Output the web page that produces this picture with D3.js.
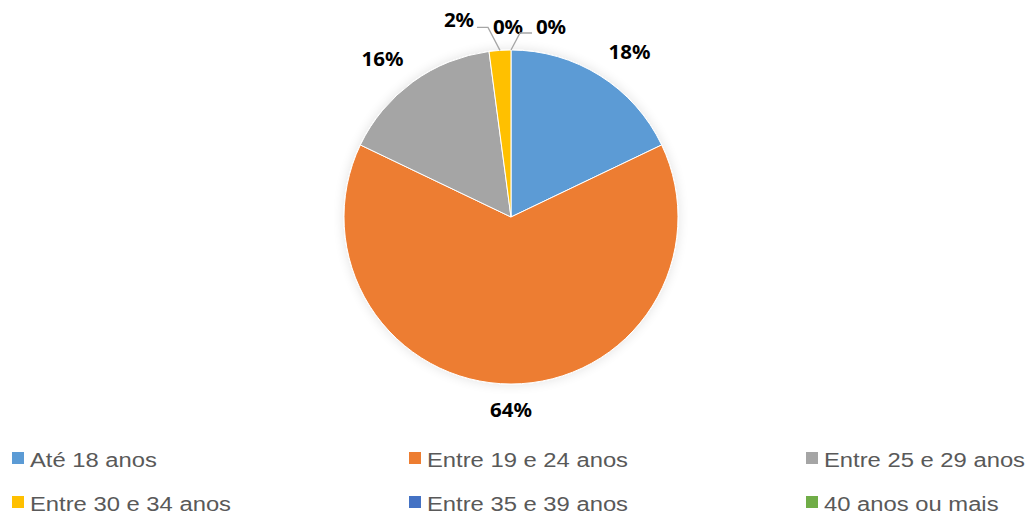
<!DOCTYPE html>
<html>
<head>
<meta charset="utf-8">
<script src="https://cdn.jsdelivr.net/npm/d3@7/dist/d3.min.js"></script>
<style>
  body { margin: 0; background: #fff; }
  svg { display: block; }
</style>
</head>
<body>
<svg id="chart" width="1029" height="514"></svg>
<script>
// Data
var categories = ["Até 18 anos", "Entre 19 e 24 anos", "Entre 25 e 29 anos",
                  "Entre 30 e 34 anos", "Entre 35 e 39 anos", "40 anos ou mais"];
var values = [17.9, 64.2, 15.8, 2.1, 0, 0];
var colors = ["#5B9BD5", "#ED7D31", "#A5A5A5", "#FFC000", "#4472C4", "#70AD47"];

var svg = d3.select("#chart"),
    width = 1029,
    cx = 511, cy = 217, radius = 167;

var total = d3.sum(values);

// soft shadow round the pie
var defs = svg.append("defs");
var filter = defs.append("filter").attr("id", "shadow")
    .attr("x", "-20%").attr("y", "-20%").attr("width", "140%").attr("height", "140%");
filter.append("feGaussianBlur").attr("in", "SourceAlpha").attr("stdDeviation", 6);
filter.append("feComponentTransfer").append("feFuncA").attr("type", "linear").attr("slope", 0.12);
var merge = filter.append("feMerge");
merge.append("feMergeNode");
merge.append("feMergeNode").attr("in", "SourceGraphic");

var pie = d3.pie().sort(null).value(function(d) { return d; });
var arcs = pie(values);

var arc = d3.arc().innerRadius(0).outerRadius(radius);

var g = svg.append("g").attr("transform", "translate(" + cx + "," + cy + ")");

g.append("g").attr("filter", "url(#shadow)")
  .selectAll("path")
  .data(arcs)
  .enter()
  .append("path")
    .attr("d", arc)
    .attr("fill", function(d, i) { return colors[i]; })
    .attr("stroke", "#fff")
    .attr("stroke-width", function(d) { return d.value > 0 ? 1 : 0; });

// Labels
var labelW = 42, labelH = 20;
var fmt = function(v) { return Math.round(v / total * 100) + "%"; };

// small slices are pushed above the pie with leader lines
var smallShift = [-41, -3, 40];
var smallIdx = 0;

arcs.forEach(function(d, i) {
  var a = (d.startAngle + d.endAngle) / 2;
  var sa = Math.sin(a), ca = -Math.cos(a);
  var lx, ly;
  if (d.endAngle - d.startAngle > 0.3) {
    var px = (radius + 16) * sa, py = (radius + 16) * ca;
    lx = px + labelW / 2 * Math.max(-1, Math.min(1, sa * 2));
    ly = py + labelH / 2 * Math.max(-1, Math.min(1, ca * 2));
  } else {
    var ax = radius * sa, ay = radius * ca;
    var shift = smallShift[smallIdx++];
    lx = ax + shift;
    ly = ay - (smallIdx === 1 ? 30 : 23);
    // leader line
    var pts;
    if (shift < -10) {
      pts = [[lx + 18, ly + 7], [lx + 29, ly + 7], [ax, ay]];
    } else if (shift > 10) {
      pts = [[lx - 19, ly + 6], [lx - 31, ly + 6], [ax, ay]];
    } else {
      pts = null;
    }
    if (pts) {
      g.append("path")
        .attr("d", d3.line()(pts))
        .attr("fill", "none")
        .attr("stroke", "#A6A6A6")
        .attr("stroke-width", 1.3);
    }
  }
  g.append("text")
    .attr("transform", "translate(" + lx + "," + ly + ") scale(1.08,1)")
    .attr("text-anchor", "middle")
    .attr("dy", "0.36em")
    .style("font-family", "'Noto Sans', sans-serif")
    .style("font-weight", "bold")
    .style("font-size", "19px")
    .style("fill", "#000")
    .text(fmt(d.value));
});

// Legend
var colX = [12, 409, 806];
var rowY = [452, 496];
var legend = svg.append("g").attr("class", "legend");
var item = legend.selectAll(".legenditem")
  .data(categories)
  .enter()
  .append("g")
    .attr("class", "legenditem")
    .attr("transform", function(d, i) {
      return "translate(" + colX[i % 3] + "," + rowY[Math.floor(i / 3)] + ")";
    });

item.append("rect")
  .attr("width", 12)
  .attr("height", 12)
  .attr("fill", function(d, i) { return colors[i]; });

item.append("text")
  .attr("transform", "translate(18,14.5) scale(1.19,1)")
  .style("font-family", "'Liberation Sans', Arial, sans-serif")
  .style("font-size", "20px")
  .style("fill", "#595959")
  .text(function(d) { return d; });
</script>
</body>
</html>
